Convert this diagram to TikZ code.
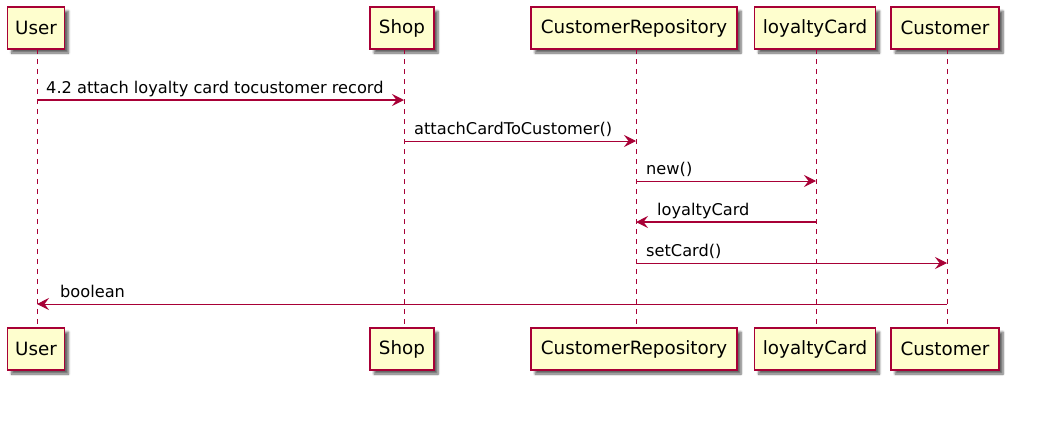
\documentclass[tikz,border=0pt]{standalone}
\usepackage{fontspec}
\setmainfont{DejaVu Sans}
\usetikzlibrary{arrows.meta,shadows.blur}
\definecolor{umlred}{HTML}{A80036}
\definecolor{umlfill}{HTML}{FEFECE}
\tikzset{
  part/.style={draw=umlred, line width=1.3pt, fill=umlfill, minimum height=42pt, inner xsep=0pt,
    font=\fontsize{18.3}{18.3}\selectfont, text=black,
    blur shadow={shadow xshift=4pt, shadow yshift=-4pt, shadow blur steps=6, shadow opacity=60}},
  life/.style={draw=umlred, line width=0.9pt, dash pattern=on 5pt off 5pt},
  msg/.style={draw=umlred, line width=1pt, -{Stealth[length=12pt,width=12pt,inset=4.5pt]}},
  lbl/.style={font=\fontsize{16.2}{16.2}\selectfont, text=black, inner sep=0pt, anchor=base west}
}
\begin{document}
\begin{tikzpicture}[x=1pt,y=-1pt]
\useasboundingbox (0,0) rectangle (1044,437);
% top participants
\node[part, minimum width=57pt] (uT) at (36,28) {User};
\node[part, minimum width=64pt] (sT) at (402,28) {Shop};
\node[part, minimum width=206pt] (cT) at (634,28) {CustomerRepository};
\node[part, minimum width=121pt] (lT) at (815,28) {loyaltyCard};
\node[part, minimum width=108pt] (kT) at (945,28) {Customer};
% bottom participants
\node[part, minimum width=57pt] (uB) at (36,349) {User};
\node[part, minimum width=64pt] (sB) at (402,349) {Shop};
\node[part, minimum width=206pt] (cB) at (634,349) {CustomerRepository};
\node[part, minimum width=121pt] (lB) at (815,349) {loyaltyCard};
\node[part, minimum width=108pt] (kB) at (945,349) {Customer};
% lifelines
\coordinate (u1) at (37,49); \coordinate (u2) at (37,328);
\coordinate (s1) at (404,49); \coordinate (s2) at (404,328);
\coordinate (c1) at (636,49); \coordinate (c2) at (636,328);
\coordinate (l1) at (816,49); \coordinate (l2) at (816,328);
\coordinate (k1) at (947,49); \coordinate (k2) at (947,328);
\draw[life] (u1) -- (u2);
\draw[life] (s1) -- (s2);
\draw[life] (c1) -- (c2);
\draw[life] (l1) -- (l2);
\draw[life] (k1) -- (k2);
% messages
\coordinate (m1a) at (37,100); \coordinate (m1b) at (404,100);
\draw[msg, line width=1.4pt] (m1a) -- (m1b);
\node[lbl] (t1) at (46,93) {4.2 attach loyalty card tocustomer record};
\coordinate (m2a) at (404,141); \coordinate (m2b) at (636,141);
\draw[msg] (m2a) -- (m2b);
\node[lbl] (t2) at (414,134) {attachCardToCustomer()};
\coordinate (m3a) at (636,181); \coordinate (m3b) at (816,181);
\draw[msg] (m3a) -- (m3b);
\node[lbl] (t3) at (646,174) {new()};
\coordinate (m4a) at (816,222); \coordinate (m4b) at (636,222);
\draw[msg, line width=1.4pt] (m4a) -- (m4b);
\node[lbl] (t4) at (657,215) {loyaltyCard};
\coordinate (m5a) at (636,263); \coordinate (m5b) at (947,263);
\draw[msg] (m5a) -- (m5b);
\node[lbl] (t5) at (646,256) {setCard()};
\coordinate (m6a) at (947,304); \coordinate (m6b) at (37,304);
\draw[msg] (m6a) -- (m6b);
\node[lbl] (t6) at (60,297) {boolean};
\end{tikzpicture}
\end{document}
